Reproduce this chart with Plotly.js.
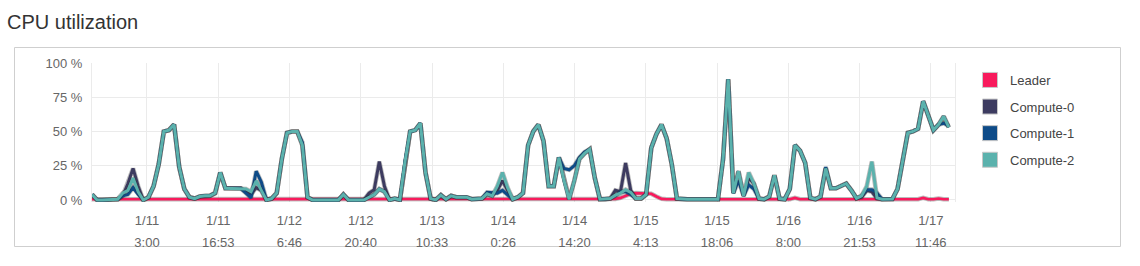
<!DOCTYPE html>
<html>
<head>
<meta charset="utf-8">
<script src="https://cdn.plot.ly/plotly-3.0.1.min.js"></script>
<style>
  html, body { margin: 0; padding: 0; background: #fff; }
  #chart { width: 1140px; height: 266px; }
</style>
</head>
<body>
<div id="chart"></div>
<script>
// ---- Data (hourly samples, % CPU) ----
const seriesNames = ['Leader', 'Compute-0', 'Compute-1', 'Compute-2'];
const seriesColors = ['#f81a5c', '#3d3b60', '#0e4b88', '#5bb2ad'];

const startTime = '2016-01-10 16:17';
const stepMinutes = 60;

const leader = [
  0.5,0.5,0.5,0.5,0.5,0.5,0.5,0.5,0.5,0.5, 0.5,0.5,0.5,0.5,0.5,0.5,0.5,0.5,0.5,0.5,
  0.5,0.5,0.5,0.5,0.5,0.5,0.5,0.5,0.5,0.5, 0.5,0.5,0.5,0.5,0.5,0.5,0.5,0.5,0.5,0.5,
  0.5,0.5,0.5,0.5,0.5,0.5,0.5,0.5,0.5,0.5, 0.5,0.5,0.5,0.5,0.5,0.5,0.5,0.5,0.5,0.5,
  0.5,0.5,0.5,0.5,0.5,0.5,0.5,0.5,0.5,0.5, 0.5,0.5,0.5,0.5,0.5,0.5,0.5,0.5,0.5,0.5,
  0.5,0.5,0.5,0.5,0.5,0.5,0.5,0.5,0.5,0.5, 0.5,0.5,0.5,0.5,0.5,0.5,0.5,0.5,0.5,0.5,
  0.5,0.8,0.8,1.5,3,4.5,5,5,5,4.5, 2.5,0.8,0.5,0.5,0.5,0.5,0.5,0.5,0.5,0.5,
  0.5,0.5,0.5,0.5,0.5,0.5,0.5,0.5,0.5,0.5, 0.5,0.5,0.5,0.5,0.5,0.5,0.5,1.5,0.5,0.5,
  0.5,0.5,0.5,0.5,0.5,0.5,0.5,0.5,0.5,0.5, 0.5,0.5,0.5,0.5,0.5,0.5,0.5,0.5,0.5,0.5,
  0.5,0.5,1.5,0.5,0.5,1,0.5,0.5
];

const compute0 = [
  4,0,0,0,0,0.5,3,12,23,10, 0,2,10,26,50,51,55,24,8,2,
  1,2.5,3,3,5,20,8.5,8.5,8.5,8.5, 6,4,9,7,0,1,5,30,49,50,
  50,40,2,0,0,0,0,0,0,4, 0,0,0,0,5,7.5,28,10,0,1,
  0,28,50,51,56,20,1,0,3.5,0.5, 3,2,2,2,0.5,0.5,1,4,3,7,
  14,7,0.5,2,5,40,50,55,43,10, 10,31,14,0.5,14,30,34,37,16,0.5,
  0.5,1,7,6,27,7,1,1,4,38, 48,55,45,26,1,0.5,0.5,0.5,0.5,0.5,
  0.5,0.5,0.5,30,88,5,21,3,16,12, 1,0.5,2.5,18,1,0.5,8,40,36,27,
  1.5,0.5,2.5,23,8.5,8.5,10,12,7,1.2, 2,7,6,1,0.5,0.5,0.7,8,30,49,
  50,52,72,61,51,55,61,53
];

const compute1 = [
  4,0,0,0,0,0.5,3,4,9,4, 0,2,10,26,50,51,55,24,8,2,
  1,2.5,3,3,5,20,8.5,8.5,8.5,8.5, 5,1.5,21,13,0,1,5,30,49,50,
  50,42,2,0,0,0,0,0,0,4, 0,0,0,0,2,4,8,6,0,1,
  0,28,50,51,56,20,1,0,3.5,0.5, 3,2,2,2,0.5,0.5,1,5.5,5.5,5,
  7,4,0.5,2,5,40,50,55,43,10, 10,31,23,22,25,31,35,37,16,0.5,
  0.5,1,3,6,6,4,1,1,4,38, 48,55,45,26,1,0.5,0.5,0.5,0.5,0.5,
  0.5,0.5,0.5,30,88,5,14,3,11,8, 1,0.5,2.5,18,1,0.5,8,40,36,27,
  1.5,0.5,2.5,24,8.5,8.5,10,12,7,1.2, 3,7.5,7.5,5,0.5,0.5,0.7,8,30,49,
  50,52,72,61,51,55,56,54
];

const compute2 = [
  4,0,0,0,0,0.5,5,7,16,6, 0,2,10,26,50,51,55,24,8,2,
  1,2.5,3,3,5,20,8.5,8.5,8.5,8.5, 8,6,14,7,0,1,5,30,49,50,
  50,40,2,0,0,0,0,0,0,4, 0,0,0,0,2,4,8,6,0,1,
  0,28,50,51,56,20,1,0,3.5,0.5, 3,2,2,2,0.5,0.5,1,4.5,3,10,
  20,9,0.5,2,5,40,50,55,43,10, 10,31,14,0.5,14,30,34,37,16,0.5,
  0.5,1,3.5,5,7.5,5.5,1,1,4,38, 48,55,45,26,1,0.5,0.5,0.5,0.5,0.5,
  0.5,0.5,0.5,30,88,5,21,3,20,12, 1,0.5,2.5,18,1,0.5,8,40,36,27,
  1.5,0.5,2.5,23,8.5,8.5,10,12,7,1.2, 3,10,28,1.5,0.5,0.5,0.7,8,30,49,
  50,52,72,61,51,55,61,53
];

// ---- Tick labels ----
const tickValues = [
  '2016-01-11 03:00', '2016-01-11 16:53', '2016-01-12 06:46', '2016-01-12 20:40',
  '2016-01-13 10:33', '2016-01-14 00:26', '2016-01-14 14:20', '2016-01-15 04:13',
  '2016-01-15 18:06', '2016-01-16 08:00', '2016-01-16 21:53', '2016-01-17 11:46'
];
const tickDates = ['1/11','1/11','1/12','1/12','1/13','1/14','1/14','1/15','1/15','1/16','1/16','1/17'];
const tickTimes = ['3:00','16:53','6:46','20:40','10:33','0:26','14:20','4:13','18:06','8:00','21:53','11:46'];
const yTickValues = [0, 25, 50, 75, 100];
const yTickLabels = ['0 %', '25 %', '50 %', '75 %', '100 %'];

// ---- Build time axis ----
function fmt(ms) {
  return new Date(ms).toISOString().slice(0, 16).replace('T', ' ');
}
const startMs = Date.parse(startTime.replace(' ', 'T') + ':00Z');
const times = leader.map((_, i) => fmt(startMs + i * stepMinutes * 60000));
const xEnd = fmt(startMs + 168.2 * 60 * 60000);

const allSeries = [leader, compute0, compute1, compute2];
const traces = [];
allSeries.forEach((vals, k) => {
  traces.push({
    type: 'scatter', mode: 'lines', x: times, y: vals,
    line: { color: 'rgba(45,45,45,0.32)', width: 4.6 },
    hoverinfo: 'skip', showlegend: false, legendgroup: 'g' + k
  });
  traces.push({
    type: 'scatter', mode: 'lines', x: times, y: vals, name: seriesNames[k],
    line: { color: seriesColors[k], width: k === 0 ? 2.6 : 3 },
    showlegend: false, legendgroup: 'g' + k
  });
});
// legend swatches
allSeries.forEach((vals, k) => {
  traces.push({
    type: 'scatter', mode: 'markers', x: [times[0]], y: [null], name: seriesNames[k],
    marker: { symbol: 'square', size: 15, color: seriesColors[k], line: { color: '#c8c8c8', width: 1 } },
    showlegend: true, hoverinfo: 'skip', legendgroup: 'g' + k
  });
});

const FONT = 'Liberation Sans, Arial, Helvetica, sans-serif';
const plotL = 92, plotR = 955, plotT = 63, plotB = 202;
const W = 1140, H = 266;
const pw = plotR - plotL, ph = plotB - plotT;
function px2paperX(px) { return (px - plotL) / pw; }
function px2paperY(py) { return (plotB - py) / ph; }

const layout = {
  width: W, height: H,
  margin: { l: plotL, r: W - plotR, t: plotT, b: H - plotB, pad: 0 },
  paper_bgcolor: '#fff', plot_bgcolor: '#fff',
  font: { family: FONT, size: 13, color: '#666' },
  title: {
    text: 'CPU utilization',
    font: { family: FONT, size: 20, color: '#333' },
    x: 7 / W, xanchor: 'left', xref: 'container',
    y: 1 - 22 / H, yanchor: 'middle', yref: 'container'
  },
  showlegend: true,
  legend: {
    x: px2paperX(970), xanchor: 'left',
    y: px2paperY(65), yanchor: 'top',
    font: { family: FONT, size: 13, color: '#444' },
    bgcolor: 'rgba(0,0,0,0)', borderwidth: 0,
    traceorder: 'grouped',
    tracegroupgap: 6.7
  },
  xaxis: {
    type: 'date',
    range: [times[0], xEnd],
    tickmode: 'array',
    tickvals: tickValues,
    ticktext: tickDates.map((d, i) =>
      '<span style="font-size:13px">' + d + '</span><br><span style="font-size:13px">' + tickTimes[i] + '</span>'),
    tickfont: { family: FONT, size: 17, color: '#666' },
    ticklabelstandoff: 5,
    showgrid: true, gridcolor: '#ebebeb', gridwidth: 1,
    zeroline: false, showline: false, ticks: '',
    fixedrange: true
  },
  yaxis: {
    range: [-1.5, 100],
    tickmode: 'array',
    tickvals: yTickValues,
    ticktext: yTickLabels,
    tickfont: { family: FONT, size: 13, color: '#666' },
    showgrid: true, gridcolor: '#ebebeb', gridwidth: 1,
    zeroline: false,
    showline: true, linecolor: '#ebebeb', linewidth: 1, mirror: true,
    ticks: 'outside', ticklen: 6, tickcolor: 'rgba(0,0,0,0)',
    fixedrange: true
  },
  shapes: [{
    type: 'rect', xref: 'paper', yref: 'paper',
    x0: px2paperX(14.5), x1: px2paperX(1120.5),
    y0: px2paperY(246.5), y1: px2paperY(47.5),
    line: { color: '#cfcfcf', width: 1 }, fillcolor: 'rgba(0,0,0,0)', layer: 'below'
  }]
};

Plotly.newPlot('chart', traces, layout, { displayModeBar: false, staticPlot: true });
</script>
</body>
</html>
